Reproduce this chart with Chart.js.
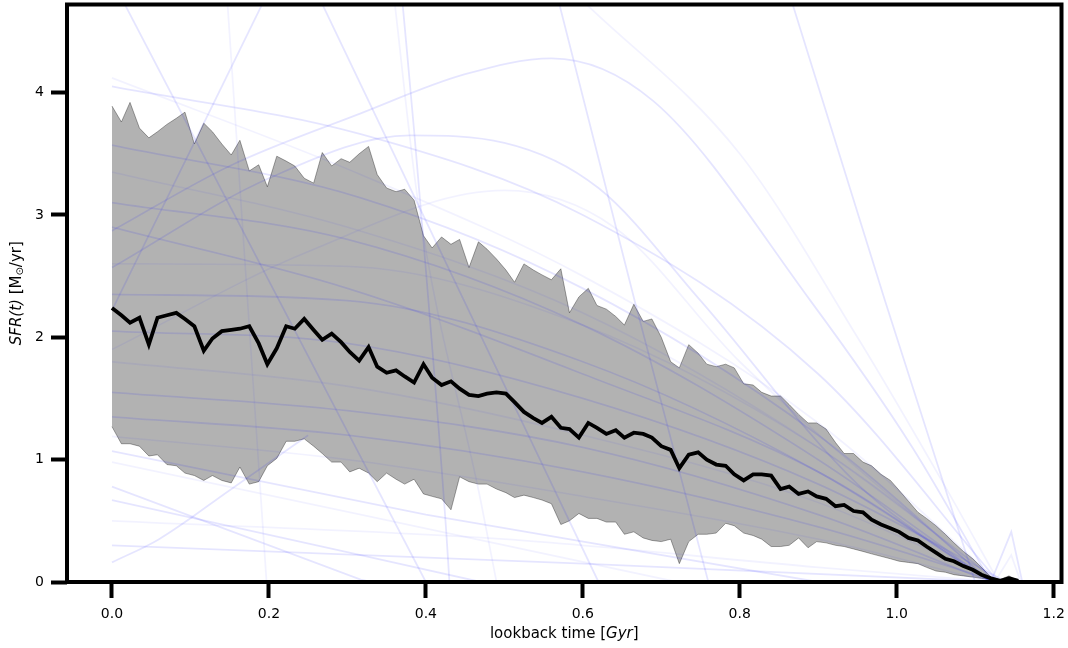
<!DOCTYPE html>
<html>
<head>
<meta charset="utf-8">
<script src="https://cdn.jsdelivr.net/npm/chart.js@4.4.1/dist/chart.umd.min.js"></script>
<style>
  html, body { margin: 0; padding: 0; background: #fff; }
  #wrap { width: 1068px; height: 648px; }
</style>
</head>
<body>
<div id="wrap"><canvas id="sfrChart"></canvas></div>
<script>
// lookback time grid [Gyr]
const t = [
  0.000, 0.012, 0.023, 0.035, 0.047, 0.058, 0.070, 0.082, 0.093, 0.105,
  0.117, 0.128, 0.140, 0.152, 0.163, 0.175, 0.187, 0.198, 0.210, 0.222,
  0.233, 0.245, 0.257, 0.268, 0.280, 0.292, 0.303, 0.315, 0.327, 0.338,
  0.350, 0.362, 0.373, 0.385, 0.397, 0.408, 0.420, 0.432, 0.443, 0.455,
  0.467, 0.478, 0.490, 0.502, 0.513, 0.525, 0.537, 0.548, 0.560, 0.572,
  0.583, 0.595, 0.607, 0.618, 0.630, 0.642, 0.653, 0.665, 0.677, 0.688,
  0.700, 0.712, 0.723, 0.735, 0.747, 0.758, 0.770, 0.782, 0.793, 0.805,
  0.817, 0.828, 0.840, 0.852, 0.863, 0.875, 0.887, 0.898, 0.910, 0.922,
  0.933, 0.945, 0.957, 0.968, 0.980, 0.992, 1.003, 1.015, 1.027, 1.038,
  1.050, 1.062, 1.073, 1.085, 1.097, 1.108, 1.120, 1.132, 1.143, 1.155
];

// median SFR
const median = [
  2.24, 2.18, 2.12, 2.16, 1.94, 2.16, 2.18, 2.20, 2.15, 2.09,
  1.89, 1.99, 2.05, 2.06, 2.07, 2.09, 1.95, 1.78, 1.91, 2.09,
  2.07, 2.15, 2.06, 1.98, 2.03, 1.96, 1.88, 1.81, 1.92, 1.76,
  1.71, 1.73, 1.68, 1.63, 1.78, 1.67, 1.61, 1.64, 1.58, 1.53,
  1.52, 1.54, 1.55, 1.54, 1.47, 1.39, 1.34, 1.30, 1.35, 1.26,
  1.25, 1.18, 1.30, 1.26, 1.21, 1.24, 1.18, 1.22, 1.21, 1.18,
  1.11, 1.08, 0.93, 1.04, 1.06, 1.00, 0.96, 0.95, 0.88, 0.83,
  0.88, 0.88, 0.87, 0.76, 0.78, 0.72, 0.74, 0.70, 0.68, 0.62,
  0.63, 0.58, 0.57, 0.51, 0.47, 0.44, 0.41, 0.36, 0.34, 0.29,
  0.24, 0.19, 0.17, 0.13, 0.10, 0.06, 0.03, 0.01, 0.03, 0.01
];

// upper edge of the spread
const upper = [
  3.89, 3.76, 3.92, 3.71, 3.63, 3.68, 3.74, 3.79, 3.84, 3.58,
  3.75, 3.68, 3.58, 3.49, 3.61, 3.36, 3.41, 3.23, 3.48, 3.44,
  3.40, 3.30, 3.26, 3.51, 3.40, 3.46, 3.43, 3.50, 3.56, 3.33,
  3.22, 3.19, 3.21, 3.12, 2.83, 2.73, 2.82, 2.76, 2.80, 2.57,
  2.78, 2.72, 2.64, 2.55, 2.45, 2.60, 2.55, 2.51, 2.47, 2.56,
  2.20, 2.33, 2.40, 2.26, 2.23, 2.17, 2.10, 2.27, 2.13, 2.15,
  2.00, 1.80, 1.75, 1.94, 1.87, 1.78, 1.76, 1.78, 1.75, 1.62,
  1.61, 1.55, 1.52, 1.52, 1.45, 1.37, 1.30, 1.30, 1.25, 1.14,
  1.05, 1.05, 0.98, 0.95, 0.88, 0.83, 0.75, 0.66, 0.57, 0.52,
  0.46, 0.39, 0.32, 0.25, 0.19, 0.12, 0.04, 0.02, 0.05, 0.01
];

// lower edge of the spread
const lower = [
  1.27, 1.13, 1.13, 1.11, 1.03, 1.04, 0.96, 0.95, 0.89, 0.87,
  0.83, 0.87, 0.83, 0.81, 0.94, 0.80, 0.82, 0.95, 1.01, 1.15,
  1.15, 1.17, 1.11, 1.05, 0.98, 0.98, 0.90, 0.93, 0.89, 0.82,
  0.89, 0.84, 0.80, 0.84, 0.72, 0.70, 0.68, 0.59, 0.86, 0.82,
  0.80, 0.80, 0.76, 0.73, 0.69, 0.71, 0.69, 0.67, 0.64, 0.47,
  0.50, 0.56, 0.52, 0.52, 0.49, 0.49, 0.39, 0.41, 0.36, 0.34,
  0.33, 0.35, 0.15, 0.33, 0.39, 0.39, 0.40, 0.48, 0.46, 0.40,
  0.38, 0.35, 0.29, 0.29, 0.30, 0.36, 0.28, 0.33, 0.32, 0.30,
  0.29, 0.27, 0.25, 0.23, 0.21, 0.19, 0.17, 0.16, 0.15, 0.12,
  0.09, 0.08, 0.06, 0.05, 0.04, 0.03, 0.02, 0.01, 0.02, 0.00
];

// individual model draws, [t, SFR] pairs
const draws = [
  [[0, 4.12], [0.317, 3.33], [0.6, 2.5], [0.9, 1.3], [1.13, 0]],
  [[0, 4.05], [0.317, 3.66], [0.6, 3.0], [0.9, 1.7], [1.13, 0]],
  [[0, 3.57], [0.317, 3.14], [0.6, 2.4], [0.9, 1.2], [1.12, 0]],
  [[0, 3.35], [0.3, 2.9], [0.6, 2.2], [0.9, 1.1], [1.13, 0]],
  [[0, 3.10], [0.3, 2.8], [0.6, 2.1], [0.9, 1.0], [1.12, 0]],
  [[0, 2.90], [0.3, 2.4], [0.6, 1.7], [0.9, 0.9], [1.12, 0]],
  [[0, 2.60], [0.3, 2.58], [0.6, 2.1], [0.9, 1.1], [1.13, 0]],
  [[0, 2.35], [0.3, 2.3], [0.6, 1.8], [0.9, 0.9], [1.12, 0]],
  [[0, 2.05], [0.3, 1.95], [0.6, 1.5], [0.9, 0.8], [1.14, 0]],
  [[0, 1.80], [0.3, 1.6], [0.6, 1.2], [0.9, 0.65], [1.13, 0]],
  [[0, 1.55], [0.3, 1.4], [0.6, 1.1], [0.9, 0.55], [1.12, 0]],
  [[0, 1.35], [0.3, 1.2], [0.6, 0.9], [0.9, 0.45], [1.13, 0]],
  [[0, 1.19], [0.3, 1.0], [0.6, 0.7], [0.9, 0.35], [1.12, 0]],
  [[0, 2.87], [0.15, 3.4], [0.317, 3.83], [0.45, 4.15], [0.56, 4.28], [0.69, 3.93], [0.89, 2.3], [1.02, 1.1], [1.12, 0]],
  [[0, 2.57], [0.2, 3.3], [0.38, 3.65], [0.5, 3.59], [0.62, 3.22], [0.75, 2.3], [0.95, 0.8], [1.12, 0]],
  [[0, 1.90], [0.25, 2.7], [0.5, 3.2], [0.64, 2.9], [0.8, 1.8], [1.12, 0]],
  [[0, 2.22], [0.205, 4.9]],
  [[0.014, 4.75], [0.40, 0]],
  [[0.147, 4.75], [0.197, 0]],
  [[0.266, 4.75], [0.62, 0]],
  [[0.37, 4.75], [0.385, 3.69], [0.426, 0.41], [0.43, 0]],
  [[0.36, 4.75], [0.39, 3.11], [0.47, 0.66], [0.49, 0]],
  [[0.569, 4.75], [0.666, 2.30], [0.76, 0]],
  [[0.866, 4.75], [0.985, 2.30], [1.10, 0]],
  [[0.60, 4.75], [0.8, 3.5], [0.95, 2.0], [1.06, 0.8], [1.13, 0]],
  [[0, 0.78], [0.317, 0.02], [0.33, 0]],
  [[0, 0.67], [0.317, 0.22], [0.47, 0]],
  [[0, 0.98], [0.317, 0.55], [0.72, 0]],
  [[0, 1.07], [0.4, 0.55], [0.9, 0]],
  [[0, 0.16], [0.06, 0.35], [0.15, 0.75], [0.25, 1.2]],
  [[0, 0.50], [0.5, 0.35], [0.9, 0.12], [1.13, 0]],
  [[0, 0.30], [0.6, 0.15], [1.13, 0]],
  [[1.12, 0], [1.146, 0.41], [1.16, 0]],
  [[1.125, 0], [1.146, 0.22], [1.158, 0]]
];

const xTicks = [0.0, 0.2, 0.4, 0.6, 0.8, 1.0, 1.2];
const yTicks = [0, 1, 2, 3, 4];

Chart.defaults.font.family = "'DejaVu Sans', sans-serif";
Chart.defaults.font.size = 14;
Chart.defaults.color = "#000";

const toXY = (xs, ys) => xs.map((x, i) => ({ x: x, y: ys[i] }));

const datasets = [
  {
    label: "median",
    data: toXY(t, median),
    borderColor: "#000",
    borderWidth: 3.8,
    pointRadius: 0,
    fill: false,
    order: 0,
  },
  {
    label: "upper",
    data: toXY(t, upper),
    borderColor: "rgba(0,0,0,0.35)",
    borderWidth: 1,
    backgroundColor: "rgba(0,0,0,0.3)",
    pointRadius: 0,
    fill: "+1",
    order: 2,
  },
  {
    label: "lower",
    data: toXY(t, lower),
    borderColor: "rgba(0,0,0,0.35)",
    borderWidth: 1,
    pointRadius: 0,
    fill: false,
    order: 2,
  },
];

draws.forEach((d, i) => {
  datasets.push({
    label: "draw" + i,
    data: d.map((p) => ({ x: p[0], y: p[1] })),
    borderColor: i % 3 === 0 ? "rgba(0,0,255,0.05)" : "rgba(0,0,255,0.1)",
    borderWidth: 1.8,
    pointRadius: 0,
    fill: false,
    cubicInterpolationMode: d.length > 3 ? "monotone" : "default",
    tension: 0,
    order: 1,
  });
});

// axis titles with mixed italic / upright parts, plus the box frame
function drawParts(ctx, parts, cx, cy, rotate) {
  ctx.save();
  ctx.translate(cx, cy);
  if (rotate) ctx.rotate(-Math.PI / 2);
  let total = 0;
  parts.forEach((p) => {
    ctx.font = p.font;
    p.w = ctx.measureText(p.text).width;
    total += p.w;
  });
  let x = -total / 2;
  ctx.textBaseline = "middle";
  ctx.fillStyle = "#000";
  parts.forEach((p) => {
    ctx.font = p.font;
    ctx.fillText(p.text, x, p.dy || 0);
    x += p.w;
  });
  ctx.restore();
}

const framePlugin = {
  id: "frame",
  afterDraw(chart) {
    const { ctx, chartArea } = chart;
    ctx.save();
    ctx.strokeStyle = "#000";
    ctx.lineWidth = 4;
    ctx.strokeRect(chartArea.left, chartArea.top, chartArea.right - chartArea.left, chartArea.bottom - chartArea.top);
    ctx.restore();

    const up = "15px 'DejaVu Sans'";
    const it = "italic 15px 'DejaVu Sans'";
    const cx = (chartArea.left + chartArea.right) / 2;
    drawParts(ctx, [
      { text: "lookback time [", font: up },
      { text: "Gyr", font: it },
      { text: "]", font: up },
    ], cx, 634, false);

    const cy = (chartArea.top + chartArea.bottom) / 2;
    drawParts(ctx, [
      { text: "SFR(t)", font: it },
      { text: " [M", font: up },
      { text: "\u2299", font: "10px 'DejaVu Sans'", dy: 3 },
      { text: "/yr]", font: up },
    ], 17, cy, true);
  },
};

const tickFont = { family: "'DejaVu Sans', sans-serif", size: 14 };

const sfrChart = new Chart(document.getElementById("sfrChart"), {
  type: "line",
  data: { datasets: datasets },
  options: {
    responsive: true,
    maintainAspectRatio: false,
    animation: false,
    events: [],
    layout: { padding: { top: 4.5, right: 6.5, bottom: 0, left: 0 } },
    plugins: {
      legend: { display: false },
      tooltip: { enabled: false },
    },
    scales: {
      x: {
        type: "linear",
        min: -0.0573,
        max: 1.21,
        afterBuildTicks: (axis) => {
          axis.ticks = xTicks.map((v) => ({ value: v }));
        },
        afterFit: (scale) => {
          scale.height = 66;
          scale.paddingLeft = 0;
          scale.paddingRight = 0;
        },
        border: { display: false },
        grid: {
          drawOnChartArea: false,
          drawTicks: true,
          tickLength: 16,
          tickWidth: 4,
          tickColor: "#000",
        },
        ticks: {
          color: "#000",
          padding: 8,
          maxRotation: 0,
          font: tickFont,
          callback: (v) => Number(v).toFixed(1),
        },
      },
      y: {
        type: "linear",
        min: 0,
        max: 4.72,
        afterBuildTicks: (axis) => {
          axis.ticks = yTicks.map((v) => ({ value: v }));
        },
        afterFit: (scale) => {
          scale.width = 67;
          scale.paddingTop = 0;
          scale.paddingBottom = 0;
        },
        border: { display: false },
        grid: {
          drawOnChartArea: false,
          drawTicks: true,
          tickLength: 16,
          tickWidth: 4,
          tickColor: "#000",
        },
        ticks: {
          color: "#000",
          padding: 7,
          font: tickFont,
        },
      },
    },
  },
  plugins: [framePlugin],
});
</script>
</body>
</html>
